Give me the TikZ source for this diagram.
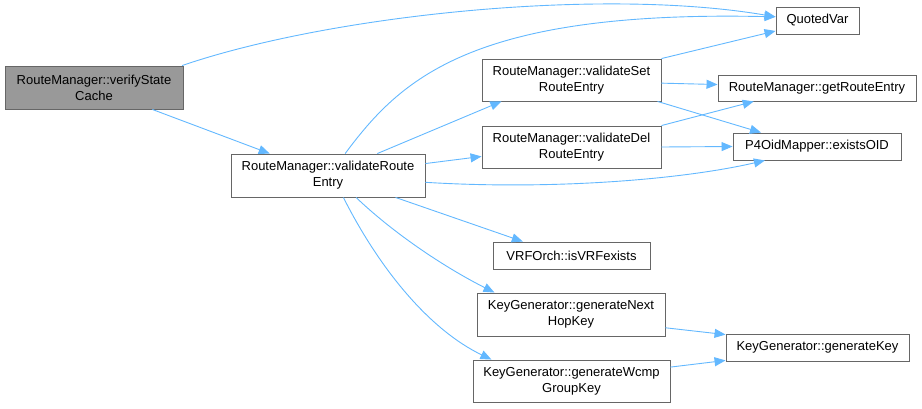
\documentclass[tikz,border=0pt]{standalone}
\usepackage{fontspec}
\setmainfont{Liberation Sans}
\usepackage{tikz}
\usetikzlibrary{arrows.meta}
\definecolor{callblue}{HTML}{63B8FF}
\definecolor{boxgray}{HTML}{666666}

\begin{document}
\begin{tikzpicture}[x=1pt,y=-1pt,
  fn/.style={draw=boxgray,fill=white,align=center,inner sep=0pt,line width=0.9pt,font=\fontsize{13}{16}\selectfont},
  call/.style={draw=callblue,line width=0.9pt,-{Triangle[length=11pt,width=9pt]}}]
\useasboundingbox (0,0) rectangle (922,408);
% functions
\node [fn,fill=black!40,minimum width=178pt,minimum height=43pt] (verify) at (94,87.5) {RouteManager::verifyState\\Cache};
\node [fn,minimum width=194pt,minimum height=43pt] (vre) at (328,175.5) {RouteManager::validateRoute\\Entry};
\node [fn,minimum width=83pt,minimum height=27pt] (qv) at (817.5,20.5) {QuotedVar};
\node [fn,minimum width=179pt,minimum height=42pt] (vset) at (571.5,80) {RouteManager::validateSet\\RouteEntry};
\node [fn,minimum width=198pt,minimum height=26pt] (gre) at (817,88) {RouteManager::getRouteEntry};
\node [fn,minimum width=179pt,minimum height=42pt] (vdel) at (571.5,147) {RouteManager::validateDel\\RouteEntry};
\node [fn,minimum width=168pt,minimum height=27pt] (eoid) at (817,146.5) {P4OidMapper::existsOID};
\node [fn,minimum width=157pt,minimum height=27pt] (vrf) at (571.5,255.5) {VRFOrch::isVRFexists};
\node [fn,minimum width=188pt,minimum height=43pt] (nhk) at (571,314.5) {KeyGenerator::generateNext\\HopKey};
\node [fn,minimum width=183pt,minimum height=27pt] (gk) at (817.5,347.5) {KeyGenerator::generateKey};
\node [fn,minimum width=197pt,minimum height=42pt] (wcmp) at (571.5,381) {KeyGenerator::generateWcmp\\GroupKey};
% calls
\draw [call] (verify.14) .. controls (330,15) and (600,-13) .. (qv.175);
\draw [call] (verify) -- (vre);
\draw [call] (vre.52) .. controls (400,80) and (470,10) .. (qv.175);
\draw [call] (vre.24) -- (vset.197);
\draw [call] (vre.7) -- (vdel.186);
\draw [call] (vre.-4) .. controls (550,190) and (680,180) .. (eoid.195);
\draw [call] (vre.-18) -- (vrf.164);
\draw [call] (vre.-38) .. controls (390,230) and (440,265) .. (nhk.164);
\draw [call] (vre.-55) .. controls (380,270) and (430,330) .. (wcmp.165);
\draw [call] (vset.north east) -- (qv.194);
\draw [call] (vset.-2) -- (gre.178);
\draw [call] (vset.-14) -- (eoid.166);
\draw [call] (vdel.north east) -- (gre.192);
\draw [call] (vdel.east) -- (eoid.west);
\draw [call] (nhk.-8) -- (gk.172);
\draw [call] (wcmp.8) -- (gk.188);
\end{tikzpicture}
\end{document}
